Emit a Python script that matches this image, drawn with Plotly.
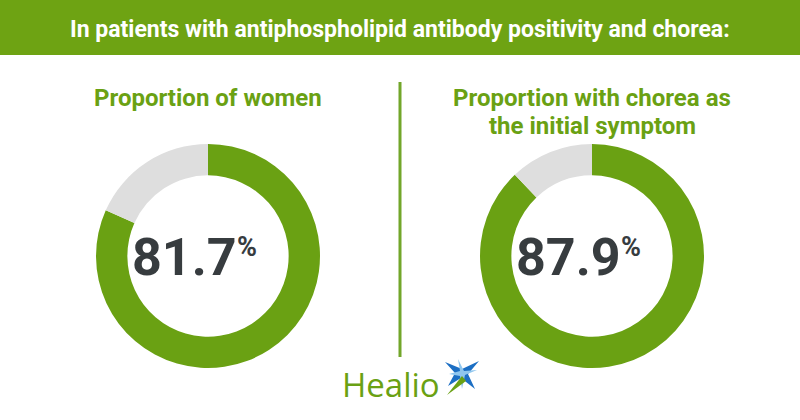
import plotly.graph_objects as go

# Data
panel_titles = ["Proportion of women", "Proportion with chorea as<br>the initial symptom"]
percent_values = [81.7, 87.9]
header_text = "In patients with antiphospholipid antibody positivity and chorea:"

GREEN = "#6aa113"
GRAY = "#dedede"
DARK = "#373c3f"
W, H = 800, 420

fig = go.Figure()

centers = [(208, 256), (592, 256)]
R = 112
for (cx, cy), v in zip(centers, percent_values):
    fig.add_trace(go.Pie(
        values=[v, 100 - v],
        marker=dict(colors=[GREEN, GRAY], line=dict(width=0)),
        hole=0.72, sort=False, direction="clockwise", rotation=0,
        textinfo="none", hoverinfo="skip", showlegend=False,
        domain=dict(x=[(cx - R) / W, (cx + R) / W],
                    y=[(H - cy - R) / H, (H - cy + R) / H]),
    ))

# pixel overlay axes
fig.update_xaxes(range=[0, W], visible=False, fixedrange=True)
fig.update_yaxes(range=[H, 0], visible=False, fixedrange=True)
fig.add_trace(go.Scatter(x=[0], y=[0], mode="markers", marker=dict(opacity=0),
                         showlegend=False, hoverinfo="skip"))

shapes = [
    dict(type="rect", xref="x", yref="y", x0=0, x1=W, y0=0, y1=55,
         fillcolor="#6ea313", line=dict(width=0), layer="below"),
    dict(type="line", xref="x", yref="y", x0=400, x1=400, y0=82, y1=357,
         line=dict(color="#72a62a", width=3)),
    # Healio star
    dict(type="path", xref="x", yref="y",
         path="M 445 362 L 462 369 L 479 361 L 468 374 L 475 389 L 461 378 L 448 386 L 455 373 Z",
         fillcolor="#1c6fc4", line=dict(width=0)),
    dict(type="path", xref="x", yref="y",
         path="M 458 359 L 464 371 L 477 370 L 465 375 L 462 389 L 460 376 L 449 374 L 460 371 Z",
         fillcolor="#8fc6ee", line=dict(width=0)),
    dict(type="path", xref="x", yref="y",
         path="M 462 376 L 447 395 L 466 381 Z",
         fillcolor=GREEN, line=dict(width=0)),
]

ann = [
    dict(x=400, y=29, xref="x", yref="y", text=header_text, showarrow=False,
         font=dict(family="Roboto", size=23, color="white", weight="bold"),
         xanchor="center", yanchor="middle"),
]
title_centers = [208, 592]
for tx, t in zip(title_centers, panel_titles):
    for i, line in enumerate(t.split("<br>")):
        ann.append(dict(x=tx, y=98 + 28 * i, xref="x", yref="y", text=line, showarrow=False,
                        font=dict(family="Roboto", size=24, color=GREEN, weight="bold"),
                        xanchor="center", yanchor="middle"))
ann.append(dict(x=442, y=384, xref="x", yref="y", text="Healio", showarrow=False,
                font=dict(family="Open Sans", size=33, color=GREEN),
                xanchor="right", yanchor="middle"))
for (cx, cy), v in zip(centers, percent_values):
    ann.append(dict(x=cx + 31, y=cy + 1, xref="x", yref="y", text=f"{v}", showarrow=False,
                    font=dict(family="Roboto", size=52, color=DARK, weight="bold"),
                    xanchor="right", yanchor="middle"))
    ann.append(dict(x=cx + 27, y=cy - 9, xref="x", yref="y", text="%", showarrow=False,
                    font=dict(family="Roboto", size=27, color=DARK, weight="bold"),
                    xanchor="left", yanchor="middle"))

fig.update_layout(width=W, height=H, margin=dict(l=0, r=0, t=0, b=0),
                  paper_bgcolor="white", plot_bgcolor="rgba(0,0,0,0)",
                  shapes=shapes, annotations=ann)
fig.write_html("out.html")
